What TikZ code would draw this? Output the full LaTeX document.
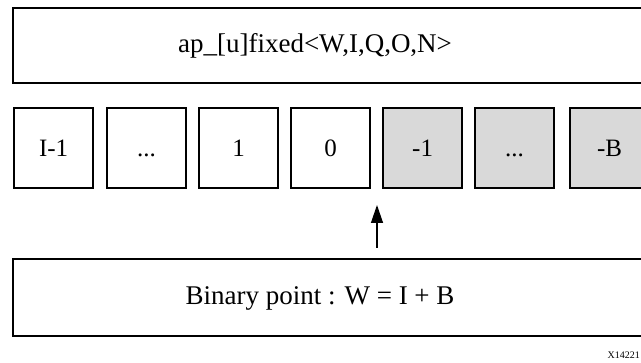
\documentclass[tikz,border=0pt]{standalone}
\usepackage{fontspec}
\setmainfont{Liberation Serif}
\usetikzlibrary{arrows.meta}
\definecolor{cellgray}{RGB}{217,217,217}
\tikzset{
  bigbox/.style={draw=black, line width=2.2pt, fill=white},
  cell/.style={draw=black, line width=2.2pt, fill=white, minimum width=79pt, minimum height=80pt, inner sep=0pt, text height=17pt, text depth=0pt, anchor=north west, font=\fontsize{25}{30}\selectfont},
  fcell/.style={cell, fill=cellgray},
  lbl/.style={font=\fontsize{27}{32}\selectfont, inner sep=0pt, text height=18pt, text depth=6pt},
  ptr/.style={line width=1.3pt, -{Triangle[length=18pt,width=12pt]}},
  tag/.style={font=\fontsize{10}{12}\selectfont, inner sep=0pt, anchor=base east}
}
\begin{document}
\begin{tikzpicture}[x=1pt,y=-1pt]
\useasboundingbox (0,0) rectangle (641,363);
\clip (0,0) rectangle (641,363);
\fill[white] (0,0) rectangle (641,363);
% top box
\draw[bigbox] (13,8) rectangle (660,83);
\node[lbl] (title) at (315,47) {ap\_[u]fixed<W,I,Q,O,N>};
% cells
\node[cell]  (c1) at (13,107)  {I-1};
\node[cell]  (c2) at (106,107) {...};
\node[cell]  (c3) at (198,107) {1};
\node[cell]  (c4) at (290,107) {0};
\node[fcell] (c5) at (382,107) {-1};
\node[fcell] (c6) at (474,107) {...};
\node[fcell] (c7) at (569,107) {-B};
% bottom box
\draw[bigbox] (13,259) rectangle (660,336);
\node[lbl] (bp) at (320,299) {Binary point : W = I + B};
\coordinate (atail) at (377,248);
\coordinate (ahead) at (377,205);
\draw[ptr] (atail) -- (ahead);
\node[tag] (x) at (640,359) {X14221};
\end{tikzpicture}
\end{document}
